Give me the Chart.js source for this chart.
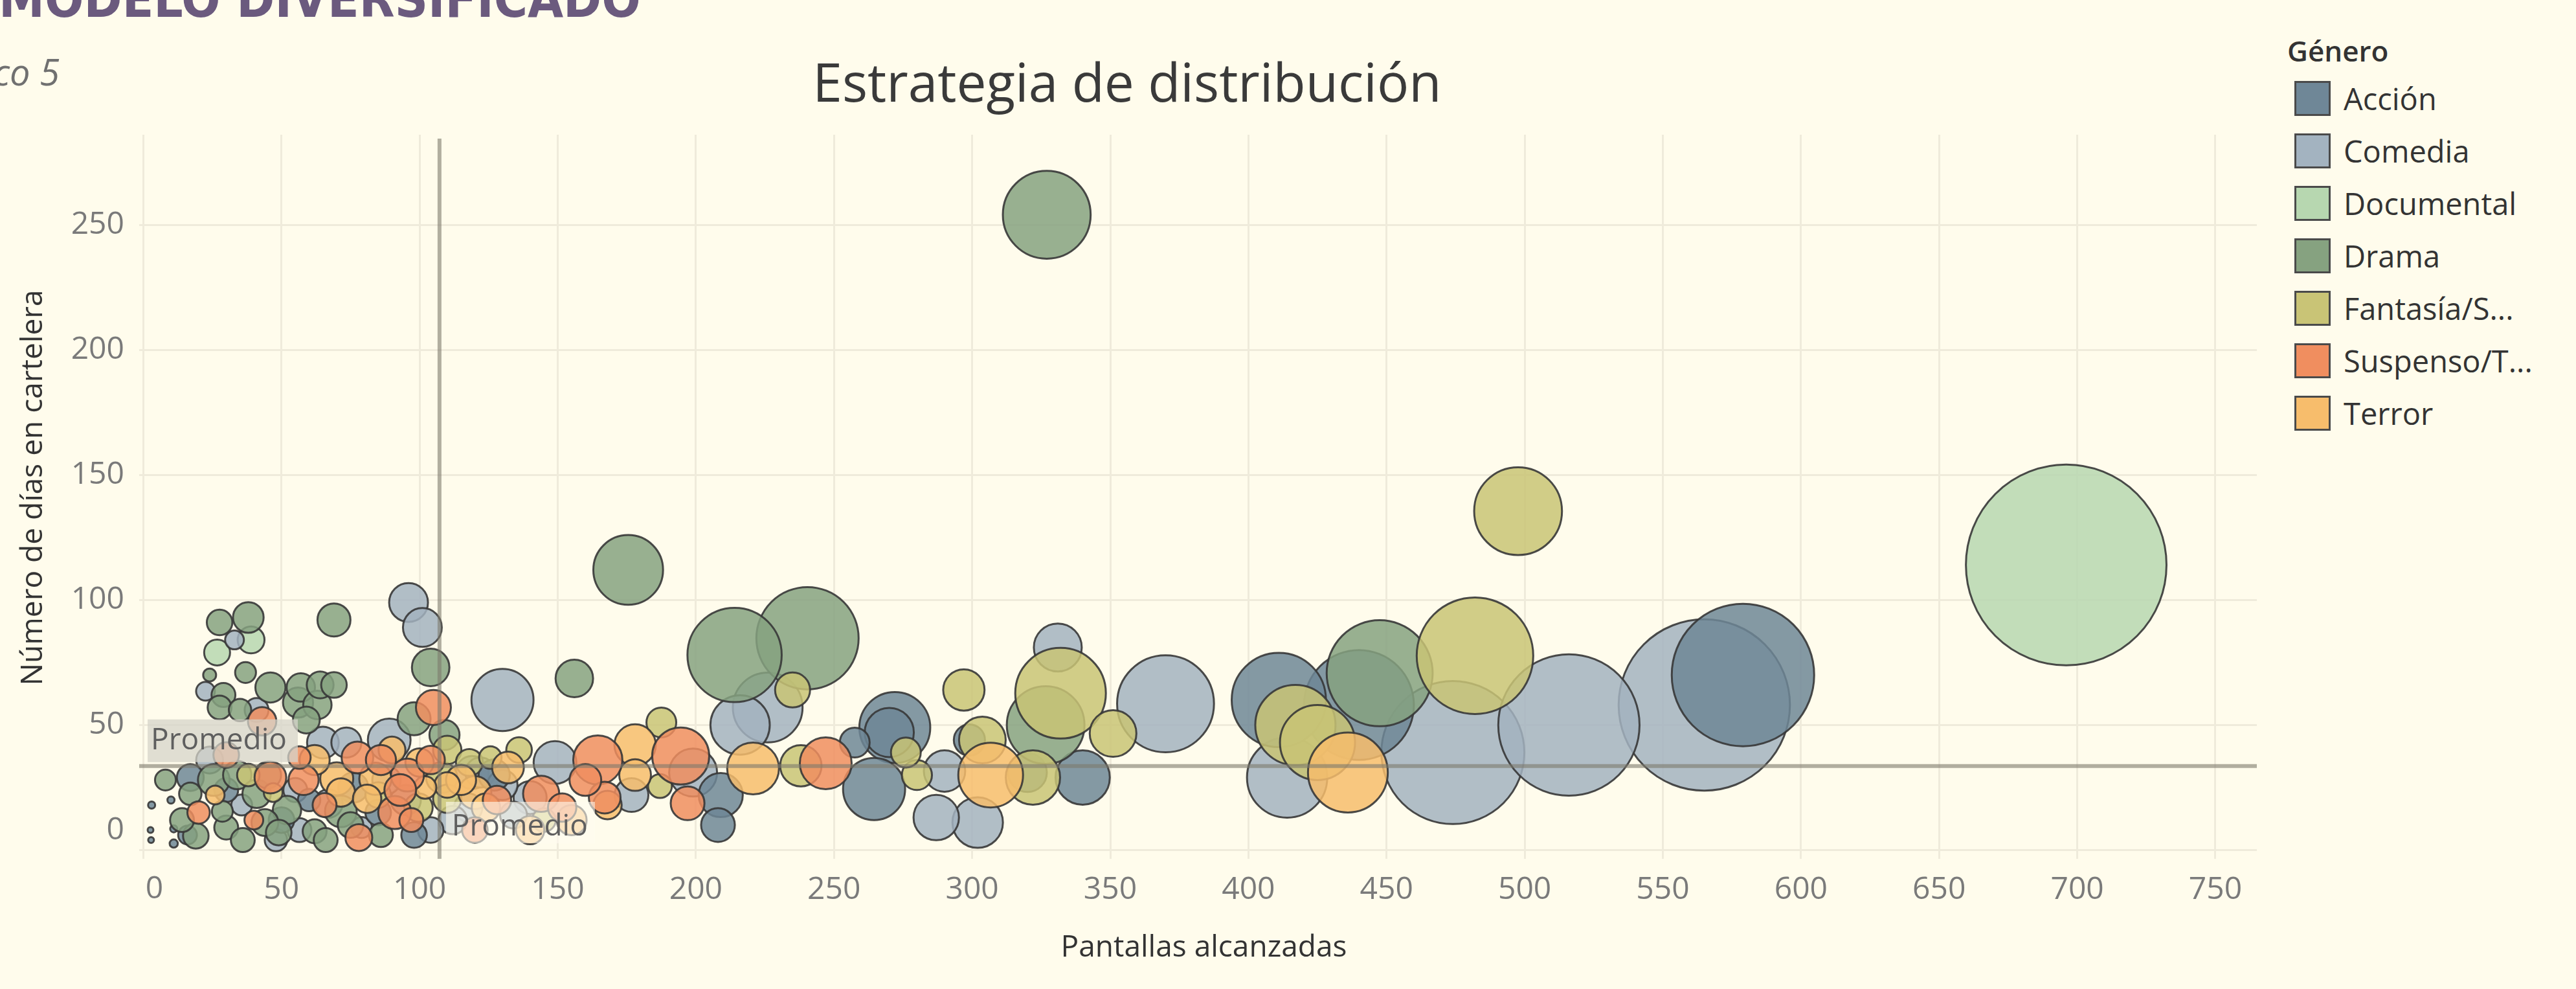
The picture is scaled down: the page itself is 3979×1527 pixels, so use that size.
<!DOCTYPE html>
<html lang="es">
<head>
<meta charset="utf-8">
<title>Estrategia de distribución</title>
<script src="https://cdn.jsdelivr.net/npm/chart.js@4.4.1/dist/chart.umd.min.js"></script>
<style>
  html, body { margin: 0; padding: 0; background: #fffcec; }
  body { width: 3979px; height: 1527px; position: relative; overflow: hidden; font-family: "Open Sans", sans-serif; }
  #chart { position: absolute; left: 0; top: 0; }
  .head { position: absolute; left: -2px; top: -43px; white-space: nowrap;
          font-family: "Liberation Sans Narrow", "DejaVu Sans Condensed", sans-serif;
          font-weight: bold; font-size: 80px; line-height: 1; color: #6b5a7e; }
  .sub { position: absolute; right: 3887px; top: 82px; white-space: nowrap;
         font-style: italic; font-size: 56px; line-height: 56px; color: #707070; }
  .title { position: absolute; left: 1741px; top: 84px; transform: translateX(-50%); white-space: nowrap;
           font-size: 82px; line-height: 82px; color: #3a3a3a; }
  .leg-title { position: absolute; left: 3533px; top: 56px; font-size: 44px; line-height: 44px; font-weight: 600; color: #333; }
  .leg-row { position: absolute; left: 3544px; height: 54px; white-space: nowrap; }
  .leg-row span.sw { position: absolute; left: 0; top: 0; width: 50px; height: 48px; border: 3px solid #4a4a4a; }
  .leg-row span.tx { position: absolute; left: 76px; top: 0; font-size: 47px; line-height: 54px; color: #333; }
</style>
</head>
<body>
<div class="head">MODELO DIVERSIFICADO</div>
<div class="sub">Gráfico 5</div>
<div class="title">Estrategia de distribución</div>
<div class="leg-title">Género</div>
<div id="legend"></div>
<canvas id="chart" width="3979" height="1527"></canvas>
<script>
// géneros y colores
const generos = ['Acción', 'Comedia', 'Documental', 'Drama', 'Fantasía/S...', 'Suspenso/T...', 'Terror'];
const colores = ['#6f8797', '#a3b3c0', '#b7d7b0', '#86a280', '#c9c476', '#f08e5f', '#f7bd6c'];

// [pantallas alcanzadas, días en cartelera, tamaño]
const accion = [
  [411, 60, 53], [440, 58, 72], [579, 70, 121], [272, 49, 30], [270, 47, 14.4],
  [340, 29, 17.6], [209, 22, 11.6], [208, 10, 6.8], [299, 44, 5.8], [127, 30, 5.8],
  [320, 31, 9], [264.5, 24.4, 23], [257.5, 43, 5.3], [17, 29, 4.3], [10, 20, 0.3],
  [3, 18, 0.3], [2.6, 8, 0.2], [2.8, 4, 0.2], [11, 2.6, 0.4], [11, 8.5, 0.3],
  [60, 20, 3], [85, 15, 3.9], [30, 24, 3.4], [50, 12, 3.9], [76, 25, 5.4],
  [98, 6, 3.9], [16, 6, 2.1]
];
const comedia = [
  [96, 99, 9], [101, 89, 9], [89, 44, 10.9], [130, 60, 23], [226, 57, 29],
  [216, 50, 21], [370, 58.5, 56], [414, 29, 38.4], [474, 39, 122], [516, 50, 119],
  [565, 58, 175], [331, 81, 13.7], [287, 13, 12.3], [302, 11, 15.2], [290, 31.6, 10.2],
  [199, 31, 13.7], [176.7, 22, 6.8], [149, 35, 10.9], [140, 21, 6.5], [119, 31, 6.5],
  [65, 43, 6], [73.5, 43, 5.4], [33, 84, 2.1], [22.5, 63.5, 2.1], [41, 56, 3.4],
  [35.6, 18, 2.6], [55, 24, 3.4], [56.5, 8, 3.4], [67, 18.6, 4.8], [79, 9, 2.6],
  [117.6, 17, 4.8], [122, 31, 5.4], [24, 36, 4.3], [48, 4, 3], [88, 28, 4.8],
  [95, 20, 5.4], [104, 8, 3.9], [112, 12, 4.8], [130, 26, 5.4], [134, 14, 4.3]
];
const documental = [
  [696, 114, 240], [39, 84, 4.3], [26.7, 79, 4]
];
const drama = [
  [327, 254, 46], [175.5, 112, 29], [214, 78, 53], [240.4, 84.7, 62.4], [447.5, 70.7, 67],
  [326.6, 50, 36], [156, 68.6, 8.4], [104, 73, 8.4], [98, 52.5, 6.5], [109, 46, 5.4],
  [69, 92, 6.5], [27.6, 91, 3.9], [38, 93, 5.6], [37, 71, 2.6], [24, 70, 1],
  [29, 62, 3.4], [27.6, 57, 3.4], [35, 56, 3], [46, 65, 5.4], [57, 65, 4.8],
  [64, 66, 4.3], [69, 66, 3.9], [56, 59, 5.4], [63, 58, 4.8], [59, 52, 4.3],
  [25.5, 28, 6], [34, 30, 4.8], [17, 22.5, 3], [28.6, 15.5, 2.6], [30, 9, 3.4],
  [19, 5.7, 3.9], [41, 22.5, 4.8], [44, 11, 4.3], [52, 16, 4.8], [62, 7.5, 3.4],
  [49, 7, 3.9], [71.5, 15.5, 6], [8, 28, 2.6], [14, 12, 3.4], [36, 4, 3.4],
  [45, 30, 4.3], [66, 4, 3.4], [75, 10, 3.9], [86, 6, 3.4]
];
const fantasia = [
  [497.6, 135.5, 46], [482, 77.7, 81], [417, 50, 38.4], [425, 43, 33.6], [332, 62.7, 49],
  [322, 29, 17.6], [351, 46.6, 13], [297, 64, 10.2], [303.7, 44, 13], [276, 39, 5.3],
  [280, 30, 5.4], [235, 64, 7.3], [238, 33.7, 10.2], [187.5, 51, 5.3], [187, 25.6, 3.4],
  [125.6, 37, 3], [110, 40, 4.8], [108, 29, 5.8], [99.6, 17, 4.8], [110, 20.5, 4.8],
  [47, 23, 2.1], [38, 30, 3], [85, 22, 3.9], [118, 35, 4.3], [136, 40, 3.9],
  [145, 12, 3.3]
];
const suspenso = [
  [105, 57, 7.3], [43, 51.5, 4.8], [77.5, 37, 6], [56.5, 37, 3], [46, 29, 6],
  [95.6, 30, 6.5], [20, 15, 3], [65.6, 18, 3.4], [91, 15, 6.5], [93, 24, 6],
  [97, 12, 3.4], [164.5, 36, 14.4], [144, 22.5, 7.8], [151.6, 17, 4.8], [167, 21, 6],
  [194.5, 37.6, 19.4], [197, 18.7, 6.8], [247, 34.7, 16], [40, 12, 2.1], [30, 38, 3.9],
  [58, 28, 5.4], [86, 36, 5.4], [104, 36, 4.8], [78, 5, 4.3], [120, 8, 3.9],
  [128, 20, 4.8], [160, 28, 6]
];
const terror = [
  [436, 31, 38], [306.7, 30, 25], [220.7, 32.6, 16], [178, 42, 10.2],
  [70, 28.5, 6.5], [84, 28.5, 6.2], [26, 22, 2.1], [71.5, 23, 4.8], [81, 20.5, 4.8],
  [102, 25, 3], [110, 26, 3.9], [120, 23, 6.5], [124, 17, 4.8], [62, 36, 5.4],
  [90, 40, 4.3], [100, 35, 4.8], [115, 28, 5.4], [132, 33, 6], [140, 8, 4.8],
  [155, 12, 5.4], [168, 18, 4.8], [178, 30, 6]
];
const series = [accion, comedia, documental, drama, fantasia, suspenso, terror];

// promedios
const promedioPantallas = 107.2;
const promedioDias = 33.6;

const xTicks = [0, 50, 100, 150, 200, 250, 300, 350, 400, 450, 500, 550, 600, 650, 700, 750];
const yTicks = [0, 50, 100, 150, 200, 250];

// fit the cut-off header to its width in the reference
const head = document.querySelector('.head');
const hw = head.getBoundingClientRect().width;
const fs = 80 * 992 / hw;
head.style.fontSize = fs + 'px';
head.style.top = (26 - 0.846 * fs) + 'px';

// legend
const legend = document.getElementById('legend');
generos.forEach((g, i) => {
  const row = document.createElement('div');
  row.className = 'leg-row';
  row.style.top = (125 + 81 * i) + 'px';
  row.innerHTML = '<span class="sw" style="background:' + colores[i] + '"></span><span class="tx">' + g + '</span>';
  legend.appendChild(row);
});

function withAlpha(hex, a) {
  const n = parseInt(hex.slice(1), 16);
  return 'rgba(' + (n >> 16) + ',' + ((n >> 8) & 255) + ',' + (n & 255) + ',' + a + ')';
}

const drawOrder = [5, 6, 7, 4, 3, 1, 2];
const datasets = series.map((pts, i) => ({
  label: generos[i],
  order: drawOrder[i],
  data: pts.slice().sort((a, b) => b[2] - a[2]).map(p => ({ x: p[0], y: p[1], r: Math.sqrt(p[2]) * 10 })),
  backgroundColor: withAlpha(colores[i], 0.85),
  borderColor: 'rgba(55,55,55,0.9)',
  borderWidth: 3
}));

const tickFont = '48px "Open Sans"';
const tickColor = '#7a7a7a';

const extras = {
  id: 'extras',
  afterDatasetsDraw(chart) {
    const { ctx, chartArea: a, scales: { x, y } } = chart;
    const px = x.getPixelForValue(promedioPantallas);
    const py = y.getPixelForValue(promedioDias);
    ctx.save();
    ctx.strokeStyle = 'rgba(125,121,108,0.6)';
    ctx.lineWidth = 6;
    ctx.beginPath(); ctx.moveTo(a.left, py); ctx.lineTo(a.right, py); ctx.stroke();
    ctx.beginPath(); ctx.moveTo(px, a.top + 6); ctx.lineTo(px, a.bottom); ctx.stroke();

    ctx.font = '46px "Open Sans"';
    ctx.textBaseline = 'middle';
    ctx.textAlign = 'left';
    ctx.fillStyle = 'rgba(214,212,202,0.75)';
    ctx.fillRect(a.left + 13, py - 72, 232, 66);
    ctx.fillStyle = '#5f5f5f';
    ctx.fillText('Promedio', a.left + 18, py - 39);

    ctx.fillStyle = 'rgba(255,252,240,0.6)';
    ctx.fillRect(px + 10, a.bottom - 88, 230, 64);
    ctx.fillStyle = '#5f5f5f';
    ctx.fillText('Promedio', px + 19, a.bottom - 49);
    ctx.restore();
  },
  afterDraw(chart) {
    const { ctx, chartArea: a, scales: { x, y } } = chart;
    ctx.save();
    // the zero labels sit nudged inside the axis ends, as in the reference
    ctx.font = tickFont;
    ctx.fillStyle = tickColor;
    ctx.textBaseline = 'middle';
    ctx.textAlign = 'right';
    ctx.fillText('0', a.left - 23, y.getPixelForValue(0) - 30);
    ctx.textAlign = 'center';
    ctx.fillText('0', x.getPixelForValue(0) + 17, a.bottom + 47);

    ctx.font = '46px "Open Sans"';
    ctx.fillStyle = '#333';
    ctx.fillText('Pantallas alcanzadas', (a.left + a.right) / 2 + 9, 1464);
    ctx.translate(52, 753);
    ctx.rotate(-Math.PI / 2);
    ctx.fillText('Número de días en cartelera', 0, 0);
    ctx.restore();
  }
};

new Chart(document.getElementById('chart'), {
  type: 'bubble',
  data: { datasets },
  plugins: [extras],
  options: {
    responsive: false,
    devicePixelRatio: 1,
    animation: false,
    events: [],
    layout: { padding: { left: 0, top: 208, right: 493, bottom: 0 } },
    plugins: { legend: { display: false }, tooltip: { enabled: false } },
    scales: {
      x: {
        type: 'linear',
        min: -1.5,
        max: 765,
        afterFit(scale) { scale.height = 201; },
        afterBuildTicks(scale) { scale.ticks = xTicks.map(v => ({ value: v })); },
        ticks: {
          font: { family: 'Open Sans', size: 48 }, color: tickColor, padding: 20, maxRotation: 0, autoSkip: false,
          callback: v => (v === 0 ? '' : String(v))
        },
        grid: { color: '#efebdb', lineWidth: 3, drawTicks: false },
        border: { display: false }
      },
      y: {
        type: 'linear',
        min: -3.5,
        max: 286,
        afterFit(scale) { scale.width = 215; },
        afterBuildTicks(scale) { scale.ticks = yTicks.map(v => ({ value: v })); },
        ticks: {
          font: { family: 'Open Sans', size: 48 }, color: tickColor, padding: 23,
          callback: v => (v === 0 ? '' : String(v))
        },
        grid: { color: '#efebdb', lineWidth: 3, drawTicks: false },
        border: { display: false }
      }
    }
  }
});
</script>
</body>
</html>
